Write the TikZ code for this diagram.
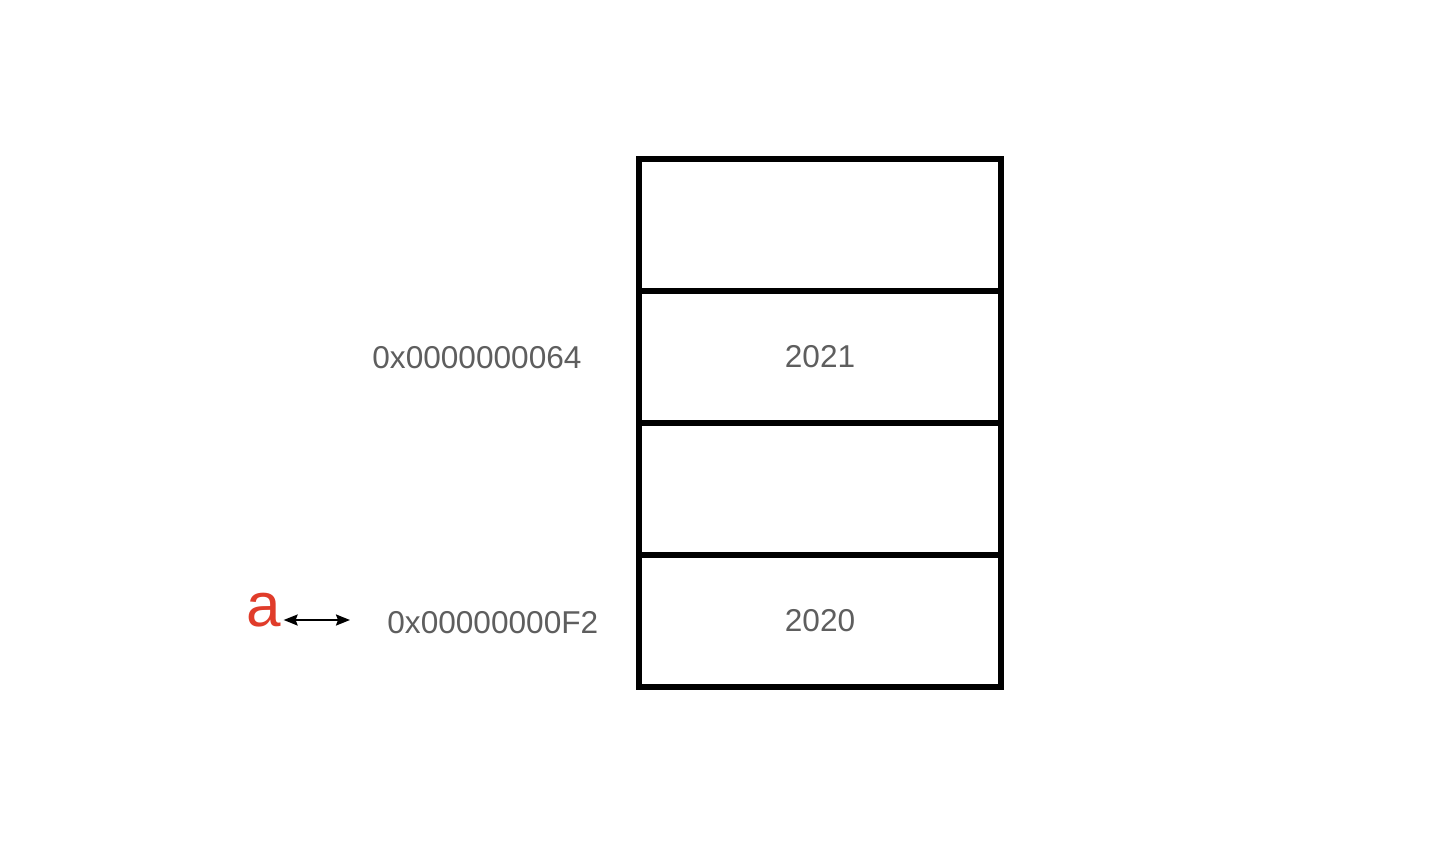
\documentclass[tikz,border=0pt]{standalone}
\usepackage{fontspec}
\setmainfont{Liberation Sans}
\usetikzlibrary{arrows.meta}
\definecolor{addrgray}{HTML}{5E5E5E}
\definecolor{varred}{HTML}{E03C2A}
\tikzset{
  cell/.style={draw,line width=3.4pt,minimum width=181pt,minimum height=66pt,
    inner sep=0pt,text=addrgray,font=\fontsize{15.8}{19}\selectfont},
  addr/.style={text=addrgray,font=\fontsize{15.8}{19}\selectfont,anchor=west,inner sep=0pt},
}
\begin{document}
\begin{tikzpicture}[x=0.5pt,y=-0.5pt]
  \useasboundingbox (0,0) rectangle (1446,862);
  % memory cells
  \node[cell] (cellA) at (820,225) {};
  \node[cell] (cellB) at (820,357) {2021};
  \node[cell] (cellC) at (820,489) {};
  \node[cell] (cellD) at (820,621) {2020};
  % addresses
  \node[addr] (addrB) at (372,358) {0x0000000064};
  \node[addr] (addrD) at (387,623) {0x00000000F2};
  % variable
  \node[text=varred,font=\fontsize{31}{36}\selectfont,inner sep=1pt] (vara) at (264,610) {a};
  \coordinate (aend) at (350,620);
  \draw[{Stealth[length=7pt,width=5.5pt,inset=1pt]}-{Stealth[length=7pt,width=5.5pt,inset=1pt]},line width=1pt]
    (vara.east |- aend) -- (aend);
\end{tikzpicture}
\end{document}
